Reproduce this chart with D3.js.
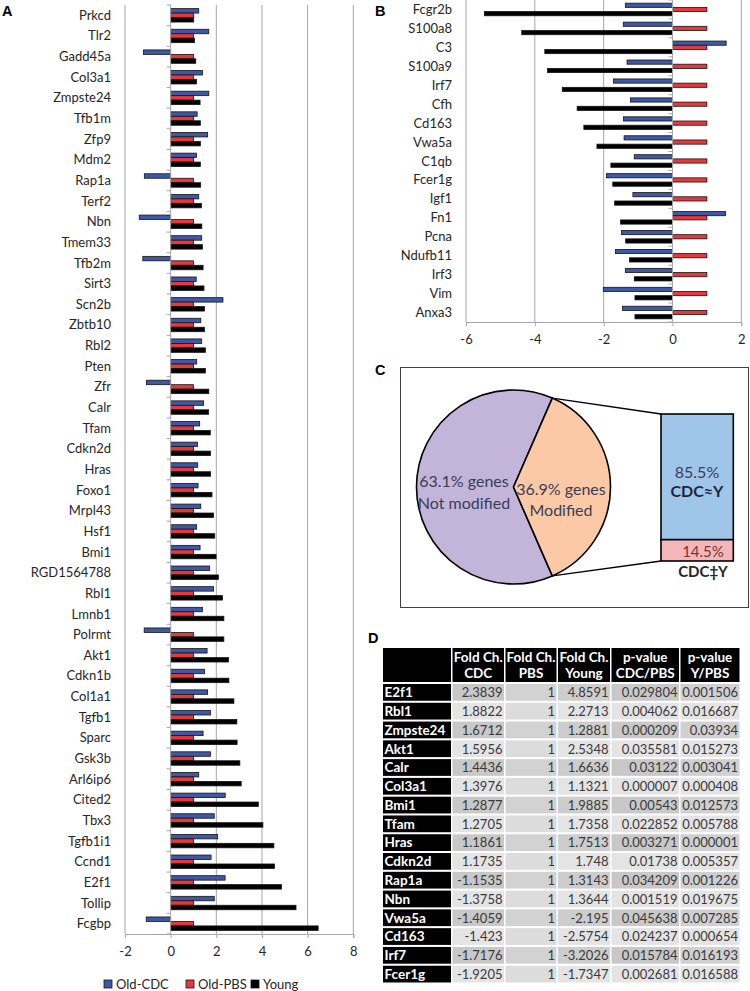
<!DOCTYPE html>
<html><head><meta charset="utf-8">
<script src="https://cdn.jsdelivr.net/npm/d3@7"></script>
<style>body{margin:0;background:#fff}svg{display:block}</style>
</head><body>
<svg id="fig" width="750" height="991"></svg>
<script>
// ---------- Panel A data ----------
const genesA = ["Prkcd","Tlr2","Gadd45a","Col3a1","Zmpste24","Tfb1m","Zfp9","Mdm2","Rap1a","Terf2","Nbn","Tmem33","Tfb2m","Sirt3","Scn2b","Zbtb10","Rbl2","Pten","Zfr","Calr","Tfam","Cdkn2d","Hras","Foxo1","Mrpl43","Hsf1","Bmi1","RGD1564788","Rbl1","Lmnb1","Polrmt","Akt1","Cdkn1b","Col1a1","Tgfb1","Sparc","Gsk3b","Arl6ip6","Cited2","Tbx3","Tgfb1i1","Ccnd1","E2f1","Tollip","Fcgbp"];
const cdcA = [1.23,1.67,-1.19,1.3976,1.6712,1.16,1.62,1.13,-1.1535,1.23,-1.3758,1.36,-1.22,1.12,2.29,1.32,1.36,1.14,-1.06,1.4436,1.2705,1.1735,1.1861,1.20,1.32,1.14,1.2877,1.71,1.8822,1.39,-1.16,1.5956,1.48,1.62,1.74,1.42,1.74,1.23,2.39,1.91,2.06,1.77,2.3839,1.91,-1.07];
const pbsA = [1,1,1,1,1,1,1,1,1,1,1,1,1,1,1,1,1,1,1,1,1,1,1,1,1,1,1,1,1,1,1,1,1,1,1,1,1,1,1,1,1,1,1,1,1];
const youngA = [1.01,1.04,1.10,1.1321,1.2881,1.30,1.30,1.30,1.3143,1.35,1.3644,1.39,1.42,1.46,1.48,1.48,1.52,1.52,1.67,1.6636,1.7358,1.748,1.7513,1.81,1.88,1.93,1.9885,2.09,2.2713,2.33,2.33,2.5348,2.55,2.77,2.90,2.91,3.03,3.09,3.84,4.04,4.52,4.55,4.8591,5.49,6.46];
const ticksA = [-2,0,2,4,6,8];

// ---------- Panel B data ----------
const genesB = ["Fcgr2b","S100a8","C3","S100a9","Irf7","Cfh","Cd163","Vwa5a","C1qb","Fcer1g","Igf1","Fn1","Pcna","Ndufb11","Irf3","Vim","Anxa3"];
const cdcB = [-1.37,-1.43,1.56,-1.32,-1.7176,-1.22,-1.423,-1.4059,-1.11,-1.9205,-1.15,1.54,-1.48,-1.66,-1.37,-2.01,-1.45];
const pbsB = [1,1,1,1,1,1,1,1,1,1,1,1,1,1,1,1,1];
const youngB = [-5.46,-4.38,-3.71,-3.63,-3.2026,-2.77,-2.5754,-2.195,-1.79,-1.7347,-1.68,-1.51,-1.36,-1.25,-1.11,-1.09,-1.09];
const ticksB = [-6,-4,-2,0,2];

const seriesNames = ["Old-CDC","Old-PBS","Young"];

// ---------- Panel C data ----------
const pieValues = [63.1, 36.9];
const pieLines = [["63.1% genes","Not modified"],["36.9% genes","Modified"]];
const barValues = [85.5, 14.5];
const barLabels = [["85.5%","CDC\u2248Y"],["14.5%","CDC\u2021Y"]];

// ---------- Panel D data ----------
const tableHeaders = [["",""],["Fold Ch.","CDC"],["Fold Ch.","PBS"],["Fold Ch.","Young"],["p-value","CDC/PBS"],["p-value","Y/PBS"]];
const tableGenes = ["E2f1","Rbl1","Zmpste24","Akt1","Calr","Col3a1","Bmi1","Tfam","Hras","Cdkn2d","Rap1a","Nbn","Vwa5a","Cd163","Irf7","Fcer1g"];
const foldCDC = ["2.3839","1.8822","1.6712","1.5956","1.4436","1.3976","1.2877","1.2705","1.1861","1.1735","-1.1535","-1.3758","-1.4059","-1.423","-1.7176","-1.9205"];
const foldPBS = ["1","1","1","1","1","1","1","1","1","1","1","1","1","1","1","1"];
const foldYoung = ["4.8591","2.2713","1.2881","2.5348","1.6636","1.1321","1.9885","1.7358","1.7513","1.748","1.3143","1.3644","-2.195","-2.5754","-3.2026","-1.7347"];
const pCDC = ["0.029804","0.004062","0.000209","0.035581","0.03122","0.000007","0.00543","0.022852","0.003271","0.01738","0.034209","0.001519","0.045638","0.024237","0.015784","0.002681"];
const pY = ["0.001506","0.016687","0.03934","0.015273","0.003041","0.000408","0.012573","0.005788","0.000001","0.005357","0.001226","0.019675","0.007285","0.000654","0.016193","0.016588"];

// ---------- styles ----------
const FONT = "Lato, 'Open Sans', sans-serif";
const COLORS = ["#3f58a6","#e8373c","#000000"];
const GRID = "#a6a6a6";
const TXT = "#262626";

const svg = d3.select("#fig").style("font-family", FONT);

function barPanel(genes, values, xDomain, xRange, yRange, ticks, labelX, pad) {
  const g = svg.append("g");
  const x = d3.scaleLinear().domain(xDomain).range(xRange);
  const y = d3.scaleBand().domain(genes).range(yRange).paddingInner(pad).paddingOuter(pad/2);
  const ys = d3.scaleBand().domain(seriesNames).range([0, y.bandwidth()]);
  g.selectAll("line.grid").data(ticks.filter(t => t !== 0)).join("line")
    .attr("x1", d => x(d)).attr("x2", d => x(d))
    .attr("y1", yRange[0]).attr("y2", yRange[1])
    .attr("stroke", GRID).attr("stroke-width", 1);
  seriesNames.forEach((s, si) => {
    g.append("g").selectAll("rect").data(genes).join("rect")
      .attr("x", (d, i) => Math.min(x(0), x(values[si][i])))
      .attr("y", d => y(d) + ys(s))
      .attr("width", (d, i) => Math.abs(x(values[si][i]) - x(0)))
      .attr("height", ys.bandwidth())
      .attr("fill", COLORS[si]).attr("stroke", "#141414").attr("stroke-width", 0.8);
  });
  const step = y.step();
  g.append("line").attr("x1", x(0)).attr("x2", x(0)).attr("y1", yRange[0]).attr("y2", yRange[1])
    .attr("stroke", GRID);
  g.selectAll("line.ct").data(d3.range(genes.length + 1)).join("line")
    .attr("x1", x(0) - 4).attr("x2", x(0))
    .attr("y1", i => yRange[0] + i * step).attr("y2", i => yRange[0] + i * step)
    .attr("stroke", GRID);
  const ax = g.append("g").attr("transform", `translate(0,${yRange[1]})`)
    .call(d3.axisBottom(x).tickValues(ticks).tickSize(4).tickPadding(9).tickFormat(d => String(d)));
  ax.select(".domain").attr("stroke", GRID);
  ax.selectAll(".tick line").attr("stroke", GRID);
  ax.selectAll(".tick text").attr("fill", TXT).style("font-size", "13px").style("font-family", FONT);
  g.selectAll("text.cat").data(genes).join("text")
    .attr("x", labelX).attr("y", d => y(d) + y.bandwidth() / 2 + 4.5)
    .attr("text-anchor", "end").attr("fill", TXT).style("font-size", "13px").text(d => d);
  return g;
}

barPanel(genesA, [cdcA, pbsA, youngA], [-2, 8], [125, 353.3], [5, 934], ticksA, 111, 0.35);
barPanel(genesB, [cdcB, pbsB, youngB], [-6, 2], [466, 741.3], [0, 322], ticksB, 452, 0.335);

// legend for A
const leg = svg.append("g");
const legX = [104, 186, 251];
seriesNames.forEach((s, i) => {
  leg.append("rect").attr("x", legX[i]).attr("y", 980).attr("width", 8).attr("height", 8)
    .attr("fill", COLORS[i]).attr("stroke", "#141414").attr("stroke-width", 0.8);
  leg.append("text").attr("x", legX[i] + 12).attr("y", 988.5).attr("fill", TXT)
    .style("font-size", "13px").text(s);
});

// panel letters
const letters = [["A", 2, 16], ["B", 375, 16], ["C", 375, 375], ["D", 368, 643]];
svg.selectAll("text.letter").data(letters).join("text")
  .attr("x", d => d[1]).attr("y", d => d[2]).text(d => d[0])
  .style("font-family", "'Liberation Sans', Arial, sans-serif").style("font-weight", "bold")
  .style("font-size", "14.5px").attr("fill", "#000");

// ---------- Panel C ----------
const gC = svg.append("g");
gC.append("rect").attr("x", 400.5).attr("y", 367.5).attr("width", 348).attr("height", 240)
  .attr("fill", "none").attr("stroke", "#404040").attr("stroke-width", 1);
const cx = 513.5, cy = 487, r = 97;
const half = Math.PI * pieValues[1] / 100;
const pie = d3.pie().sort(null).startAngle(Math.PI / 2 + half).endAngle(Math.PI / 2 + half + 2 * Math.PI);
const arc = d3.arc().innerRadius(0).outerRadius(r);
const pieColors = ["#c3b5d9", "#fbc9a6"];
gC.append("g").attr("transform", `translate(${cx},${cy})`)
  .selectAll("path").data(pie(pieValues)).join("path")
  .attr("d", arc).attr("fill", (d, i) => pieColors[i]).attr("stroke", "#000").attr("stroke-width", 1.6)
  .attr("stroke-linejoin", "round");
const yBar = d3.scaleLinear().domain([0, 100]).range([414, 561]);
const barX0 = 661, barX1 = 733.3;
const cum = [0, barValues[0], barValues[0] + barValues[1]];
const barColors = ["#9fc5e8", "#f4b6b8"];
barValues.forEach((v, i) => {
  gC.append("rect").attr("x", barX0).attr("y", yBar(cum[i])).attr("width", barX1 - barX0)
    .attr("height", yBar(cum[i + 1]) - yBar(cum[i]))
    .attr("fill", barColors[i]).attr("stroke", "#000").attr("stroke-width", 1.6);
});
const a1 = Math.PI / 2 - half, a2 = Math.PI / 2 + half;
gC.append("line").attr("x1", cx + r * Math.sin(a1)).attr("y1", cy - r * Math.cos(a1))
  .attr("x2", barX0).attr("y2", yBar(0)).attr("stroke", "#000").attr("stroke-width", 1.4);
gC.append("line").attr("x1", cx + r * Math.sin(a2)).attr("y1", cy - r * Math.cos(a2))
  .attr("x2", barX0).attr("y2", yBar(100)).attr("stroke", "#000").attr("stroke-width", 1.4);
const PIETXT = "#3a3d58";
const pieTextPos = [[464, 487, 509], [561, 495, 516]];
pieLines.forEach((lines, i) => {
  lines.forEach((t, j) => {
    gC.append("text").attr("x", pieTextPos[i][0]).attr("y", pieTextPos[i][1 + j])
      .attr("text-anchor", "middle").attr("fill", PIETXT).style("font-size", "16px").text(t);
  });
});
gC.append("text").attr("x", 697).attr("y", 478).attr("text-anchor", "middle").attr("fill", PIETXT)
  .style("font-size", "16px").text(barLabels[0][0]);
gC.append("text").attr("x", 697).attr("y", 497).attr("text-anchor", "middle").attr("fill", "#1e2540")
  .style("font-size", "16px").style("font-weight", "bold").text(barLabels[0][1]);
gC.append("text").attr("x", 703).attr("y", 556.5).attr("text-anchor", "middle").attr("fill", "#7a3434")
  .style("font-size", "15px").text(barLabels[1][0]);
gC.append("text").attr("x", 703).attr("y", 577).attr("text-anchor", "middle").attr("fill", "#262626")
  .style("font-size", "15px").style("font-weight", "bold").text(barLabels[1][1]);

// ---------- Panel D ----------
const gD = svg.append("g");
const colEdges = [[383, 451], [452.5, 504], [505.5, 556.5], [558, 610], [611.5, 679], [680.5, 739.5]];
const rowY = d3.scaleBand().domain(tableGenes).range([684, 684 + 16 * 18.53 + 2]).paddingInner(0.108).paddingOuter(0);
colEdges.forEach((c, j) => {
  gD.append("rect").attr("x", c[0]).attr("y", 648).attr("width", c[1] - c[0]).attr("height", 34).attr("fill", "#000");
  const cxm = (c[0] + c[1]) / 2;
  tableHeaders[j].forEach((t, k) => {
    gD.append("text").attr("x", cxm).attr("y", 662 + k * 15.5).attr("text-anchor", "middle")
      .attr("fill", "#fff").style("font-weight", "bold").style("font-size", "13.5px").text(t);
  });
});
const tableCols = [foldCDC, foldPBS, foldYoung, pCDC, pY];
const darkShade = ["#c8c8c8", "#d2d2d2", "#cdcdcd", "#c8c8c8", "#d0d0d0"];
const lightShade = ["#e4e4e4", "#dcdcdc", "#e4e4e4", "#e4e4e4", "#e4e4e4"];
tableGenes.forEach((gname, i) => {
  const y0 = rowY(gname), h = rowY.bandwidth();
  gD.append("rect").attr("x", colEdges[0][0]).attr("y", y0).attr("width", colEdges[0][1] - colEdges[0][0])
    .attr("height", h).attr("fill", "#000");
  gD.append("text").attr("x", colEdges[0][0] + 1.5).attr("y", y0 + h / 2 + 4.8).attr("fill", "#fff")
    .style("font-weight", "bold").style("font-size", "13.5px").text(gname);
  tableCols.forEach((col, j) => {
    const c = colEdges[j + 1];
    gD.append("rect").attr("x", c[0]).attr("y", y0).attr("width", c[1] - c[0]).attr("height", h)
      .attr("fill", i % 2 === 0 ? darkShade[j] : lightShade[j]);
    gD.append("text").attr("x", c[1] - 1.5).attr("y", y0 + h / 2 + 4.8).attr("text-anchor", "end")
      .attr("fill", "#3a3a3a").style("font-size", "13px").text(col[i]);
  });
});
</script>
</body></html>
